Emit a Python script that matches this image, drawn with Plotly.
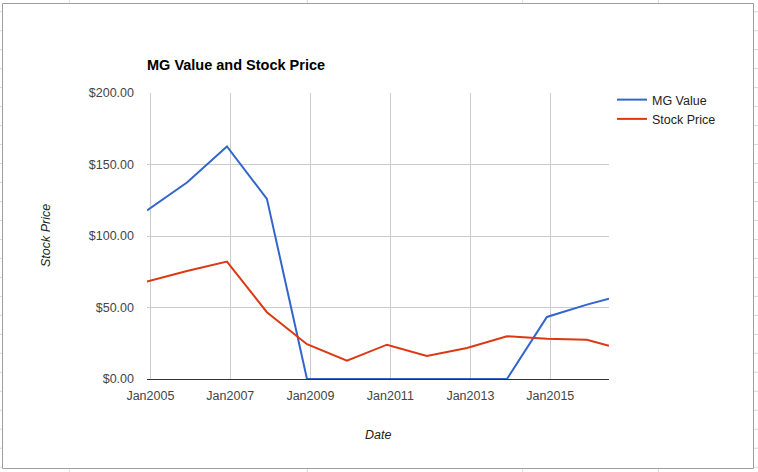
import plotly.graph_objects as go

# ---- data ----
dates = ["2004-12-01", "2005-12-01", "2006-12-01", "2007-12-01", "2008-12-01",
         "2009-12-01", "2010-12-01", "2011-12-01", "2012-12-01", "2013-12-01",
         "2014-12-01", "2015-12-01", "2016-06-20"]
mg_value = [117.8, 137.4, 162.6, 126.0, 0, 0, 0, 0, 0, 0, 43.4, 52.0, 56.2]
stock_price = [68.1, 75.5, 82.1, 46.7, 24.3, 12.8, 24.0, 16.1, 21.7, 29.9, 28.2, 27.5, 23.3]
x_tick_vals = ["2005-01-01", "2007-01-01", "2009-01-01", "2011-01-01", "2013-01-01", "2015-01-01"]
y_tick_vals = [0, 50, 100, 150, 200]
y_tick_text = ["$0.00", "$50.00", "$100.00", "$150.00", "$200.00"]

W_FIG, H_FIG = 758, 472
L, R, T, B = 147, 149, 93, 93
PW = W_FIG - L - R
PH = H_FIG - T - B

def px(x):
    return (x - L) / PW

def py(y):
    return (H_FIG - B - y) / PH

FONT = "Arial, Liberation Sans, sans-serif"

fig = go.Figure()
fig.add_trace(go.Scatter(x=dates, y=mg_value, name="MG Value", mode="lines",
                         line=dict(color="#3366CC", width=2)))
fig.add_trace(go.Scatter(x=dates, y=stock_price, name="Stock Price", mode="lines",
                         line=dict(color="#DC3912", width=2)))

shapes = []
# chart frame
shapes.append(dict(type="rect", xref="paper", yref="paper",
                   x0=px(2.5), x1=px(753.5), y0=py(3.5), y1=py(468.5),
                   line=dict(color="#9e9e9e", width=1), layer="below"))
# spreadsheet grid lines visible outside the frame
for k in range(25):
    yy = 11.7 + 18.98 * k
    shapes.append(dict(type="line", xref="paper", yref="paper",
                       x0=px(0), x1=px(2), y0=py(yy), y1=py(yy),
                       line=dict(color="#d9d9d9", width=1)))
    shapes.append(dict(type="line", xref="paper", yref="paper",
                       x0=px(754), x1=px(758), y0=py(yy), y1=py(yy),
                       line=dict(color="#d9d9d9", width=1)))
for xx in [69.3, 307.3, 522.7, 658.3]:
    shapes.append(dict(type="line", xref="paper", yref="paper",
                       x0=px(xx), x1=px(xx), y0=py(0), y1=py(3),
                       line=dict(color="#d9d9d9", width=1)))
    shapes.append(dict(type="line", xref="paper", yref="paper",
                       x0=px(xx), x1=px(xx), y0=py(469), y1=py(472),
                       line=dict(color="#d9d9d9", width=1)))

annotations = [
    dict(text="Stock Price", xref="paper", yref="paper", x=px(46), y=py(236),
         showarrow=False, textangle=-90, xanchor="center", yanchor="middle",
         font=dict(family=FONT, size=12.5, color="#222222", style="italic")),
    dict(text="Date", xref="paper", yref="paper", x=px(378.3), y=py(435),
         showarrow=False, xanchor="center", yanchor="middle",
         font=dict(family=FONT, size=12.5, color="#222222", style="italic")),
]

fig.update_layout(
    width=W_FIG, height=H_FIG,
    margin=dict(l=L, r=R, t=T, b=B, pad=0),
    paper_bgcolor="white", plot_bgcolor="white",
    font=dict(family=FONT, size=12.5, color="#444444"),
    title=dict(text="<b>MG Value and Stock Price</b>", xref="paper", x=0, xanchor="left",
               yref="container", y=(H_FIG - 65) / H_FIG, yanchor="middle",
               font=dict(family=FONT, size=14.5, color="#000000")),
    xaxis=dict(type="date", range=[dates[0], dates[-1]], tickvals=x_tick_vals,
               tickformat="%b%Y", showgrid=True, gridcolor="#cccccc", gridwidth=1,
               showline=False, zeroline=False, ticks="", ticklabelstandoff=7,
               tickfont=dict(family=FONT, size=12.5, color="#444444")),
    yaxis=dict(range=[0, 200], tickvals=y_tick_vals, ticktext=y_tick_text,
               showgrid=True, gridcolor="#cccccc", gridwidth=1,
               zeroline=True, zerolinecolor="#333333", zerolinewidth=1,
               showline=False, ticks="", ticklabelstandoff=12,
               tickfont=dict(family=FONT, size=12.5, color="#444444")),
    legend=dict(x=px(612), xanchor="left", y=py(85), yanchor="top",
                font=dict(family=FONT, size=12.5, color="#222222"),
                bgcolor="rgba(0,0,0,0)", tracegroupgap=0),
    shapes=shapes,
    annotations=annotations,
)

fig.write_html("out.html", config={"displayModeBar": False},
               post_script="document.body.style.margin='0';document.body.style.overflow='hidden';")
